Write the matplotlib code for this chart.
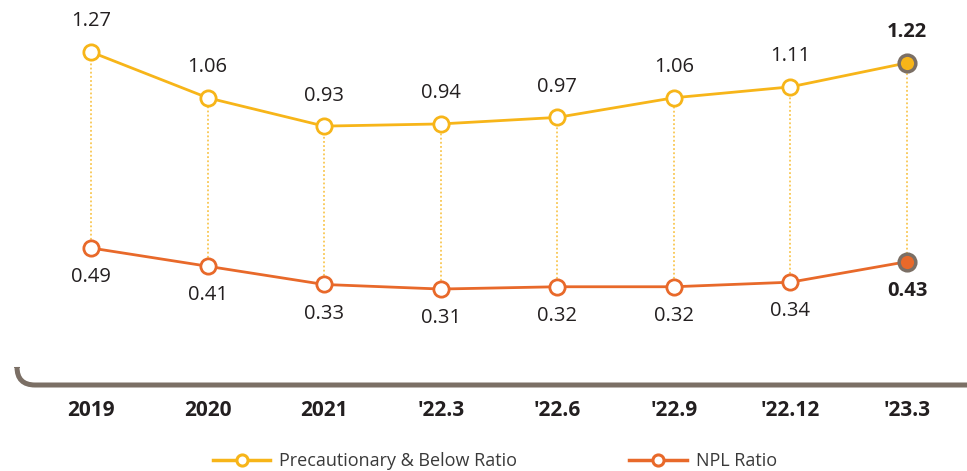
import matplotlib.pyplot as plt
import numpy as np
from matplotlib.path import Path
from matplotlib.patches import PathPatch
from matplotlib.lines import Line2D

plt.rcParams['font.family'] = ['Open Sans', 'DejaVu Sans']

# data
periods = ['2019', '2020', '2021', "'22.3", "'22.6", "'22.9", "'22.12", "'23.3"]
precautionary = [1.27, 1.06, 0.93, 0.94, 0.97, 1.06, 1.11, 1.22]
npl = [0.49, 0.41, 0.33, 0.31, 0.32, 0.32, 0.34, 0.43]

yellow = '#F7B519'
orange = '#E8692A'
frame = '#7B6F65'
txt = '#231F20'

fig = plt.figure(figsize=(9.67, 4.71), dpi=100)
ax = fig.add_axes([0, 1 - 385 / 471, 1, 385 / 471])
ax2 = ax.twinx()

x = np.arange(len(periods))
ax.set_xlim(-0.781, 7.515)
ax.set_ylim(-0.2575, 1.5085)
ax2.set_ylim(-0.1109, 1.5777)

for a in (ax, ax2):
    for s in a.spines.values():
        s.set_visible(False)
    a.set_yticks([])
ax.patch.set_alpha(0)

# dotted connectors between the two series (drawn under the markers)
for i in range(len(x)):
    disp = ax2.transData.transform((x[i], npl[i]))
    ybot = ax.transData.inverted().transform(disp)[1]
    ax.plot([x[i], x[i]], [ybot, precautionary[i]], color=yellow, lw=1.3,
            ls=(0, (1, 1.3)), alpha=0.75, zorder=1)

ax.plot(x, precautionary, color=yellow, lw=2, marker='o', ms=11,
        mfc='white', mec=yellow, mew=2, zorder=3)
ax2.plot(x, npl, color=orange, lw=2, marker='o', ms=11,
         mfc='white', mec=orange, mew=2, zorder=3)
# latest point highlighted
ax.plot(x[-1], precautionary[-1], marker='o', ms=12, mfc=yellow, mec=frame,
        mew=2.5, zorder=4)
ax2.plot(x[-1], npl[-1], marker='o', ms=12, mfc=orange, mec=frame,
         mew=2.5, zorder=4)

last = len(x) - 1
for i, v in enumerate(precautionary):
    ax.annotate(f'{v:.2f}', (x[i], v), xytext=(0, 22), textcoords='offset points',
                ha='center', va='center', fontsize=14.5, color=txt,
                fontweight='bold' if i == last else 'normal')
for i, v in enumerate(npl):
    ax2.annotate(f'{v:.2f}', (x[i], v), xytext=(0, -21), textcoords='offset points',
                 ha='center', va='center', fontsize=14.5, color=txt,
                 fontweight='bold' if i == last else 'normal')

ax.set_xticks(x)
ax.set_xticklabels(periods, fontsize=15, fontweight='bold', color=txt)
ax.tick_params(axis='x', length=0, pad=11)
ax2.tick_params(axis='x', length=0)

# bracket-shaped baseline
x0, y0 = 17 / 967, 1 - 368 / 471
yb = 1 - 385 / 471
r = 18
verts = [(x0, y0), (x0, yb + r / 471), (x0, yb), (x0 + r / 967, yb), (1.0, yb)]
codes = [Path.MOVETO, Path.LINETO, Path.CURVE3, Path.CURVE3, Path.LINETO]
fig.patches.append(PathPatch(Path(verts, codes), transform=fig.transFigure,
                             fill=False, lw=3.6, color=frame, capstyle='butt'))

handles = [
    Line2D([], [], color=yellow, lw=2.5, marker='o', ms=8, mfc='white', mec=yellow, mew=2.2),
    Line2D([], [], color=orange, lw=2.5, marker='o', ms=8, mfc='white', mec=orange, mew=2.2),
]
fig.legend(handles, ['Precautionary & Below Ratio', 'NPL Ratio'], loc='center',
           bbox_to_anchor=(495 / 967, 1 - 461 / 471), ncol=2, frameon=False,
           fontsize=13, handlelength=3.2, handletextpad=0.5, columnspacing=6.2,
           labelcolor='#3a3a3a')

fig.savefig('out.png', dpi=100)
